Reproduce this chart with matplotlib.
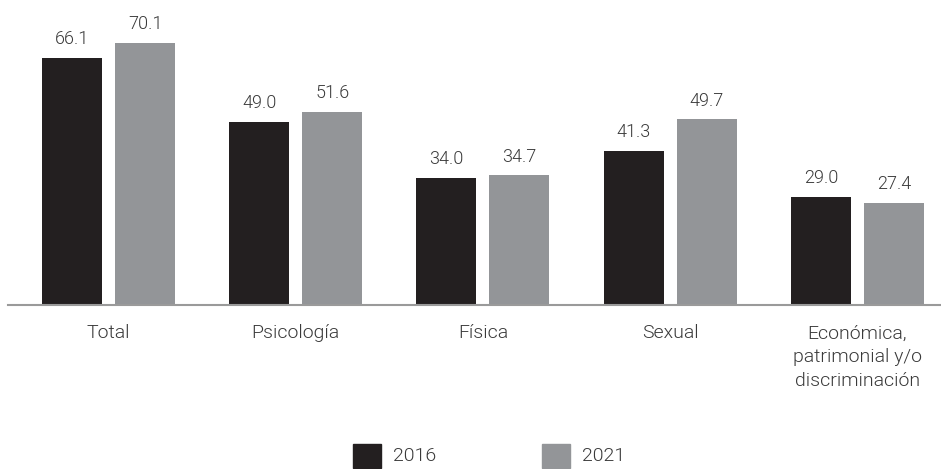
import matplotlib
matplotlib.use("Agg")
import matplotlib.pyplot as plt
from matplotlib.patches import Rectangle
from matplotlib import font_manager as fm
import numpy as np

categories = ["Total", "Psicología", "Física", "Sexual", "Económica,\npatrimonial y/o\ndiscriminación"]
series_names = ["2016", "2021"]
values_2016 = [66.1, 49.0, 34.0, 41.3, 29.0]
values_2021 = [70.1, 51.6, 34.7, 49.7, 27.4]

colors = ["#231f20", "#939598"]
text_color = "#3a3a3a"
plt.rcParams['font.family'] = ['Roboto', 'DejaVu Sans']

light = [f for f in fm.findSystemFonts() if "Roboto-Light" in f.split("/")[-1] and "Italic" not in f]
if light:
    fp_val = fm.FontProperties(fname=light[0], size=13)
    fp_cat = fm.FontProperties(fname=light[0], size=14)
else:
    fp_val = fm.FontProperties(family=["Roboto", "DejaVu Sans"], size=13)
    fp_cat = fm.FontProperties(family=["Roboto", "DejaVu Sans"], size=14)

fig = plt.figure(figsize=(9.41, 4.69), dpi=100)
W, H = 941, 469
ax = fig.add_axes([8 / W, 1 - 305 / H, (941 - 8) / W, 305 / H])

x = np.arange(len(categories))
bw = 0.321
off = 0.195
b1 = ax.bar(x - off, values_2016, bw, color=colors[0], label=series_names[0])
b2 = ax.bar(x + off, values_2021, bw, color=colors[1], label=series_names[1])

for bars, vals in ((b1, values_2016), (b2, values_2021)):
    for r, v in zip(bars, vals):
        ax.annotate(f"{v:.1f}", (r.get_x() + r.get_width() / 2, v),
                    xytext=(0, 7), textcoords="offset points",
                    ha="center", va="bottom", fontproperties=fp_val, color=text_color)

ax.set_xlim(-0.537, 4.447)
ax.set_ylim(0, 81.6)
for s in ["top", "right", "left"]:
    ax.spines[s].set_visible(False)
ax.spines["bottom"].set_color("#9a9a9a")
ax.spines["bottom"].set_linewidth(1.5)
ax.set_yticks([])
ax.set_xticks(x)
ax.set_xticklabels(categories, fontproperties=fp_cat, color=text_color,
                   linespacing=1.42, va="top")
ax.tick_params(axis="x", length=0, pad=14)

# legend
for i, (name, c) in enumerate(zip(series_names, colors)):
    x0 = [353, 542][i]
    fig.patches.append(Rectangle((x0 / W, 1 - 468 / H), 28 / W, 24 / H,
                                 transform=fig.transFigure, color=c))
    fig.text((x0 + 40) / W, 1 - 456 / H, name, fontproperties=fp_cat, color=text_color,
             va="center", ha="left")

fig.savefig("out.png", dpi=100)
